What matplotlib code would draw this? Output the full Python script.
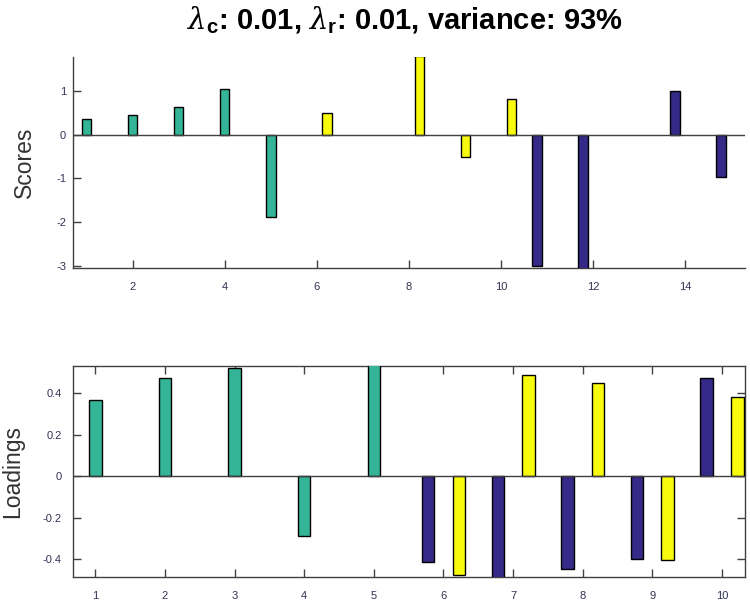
import matplotlib
matplotlib.use("Agg")
import matplotlib.pyplot as plt
import numpy as np

plt.rcParams["font.family"] = ["Liberation Sans", "DejaVu Sans"]
plt.rcParams["axes.unicode_minus"] = False
plt.rcParams["mathtext.fontset"] = "custom"
plt.rcParams["mathtext.it"] = "DejaVu Serif:italic"
plt.rcParams["mathtext.rm"] = "Liberation Sans:bold"
plt.rcParams["mathtext.bf"] = "Liberation Sans:bold"

# grouped bar data: one series per colour (navy, teal, yellow)
score_rows = np.arange(1, 16)
scores_navy = [0, 0, 0, 0, 0, 0, 0, 0, 0, 0, -3.0, -3.1, 0, 1.0, -0.97]
scores_teal = [0.37, 0.45, 0.63, 1.05, -1.89, 0, 0, 0, 0, 0, 0, 0, 0, 0, 0]
scores_yellow = [0, 0, 0, 0, 0, 0.50, 0, 1.80, -0.51, 0.82, 0, 0, 0, 0, 0]

load_rows = np.arange(1, 11)
load_navy = [0, 0, 0, 0, 0, -0.414, -0.49, -0.446, -0.397, 0.47]
load_teal = [0.365, 0.47, 0.52, -0.29, 0.54, 0, 0, 0, 0, 0]
load_yellow = [0, 0, 0, 0, 0, -0.473, 0.489, 0.45, -0.405, 0.38]

score_xticks = [2, 4, 6, 8, 10, 12, 14]
score_yticks = [-3, -2, -1, 0, 1]
load_xticks = list(range(1, 11))
load_yticks = [-0.4, -0.2, 0, 0.2, 0.4]

colors = ["#352a87", "#35b597", "#f9fb0e"]
offsets = [-0.22, 0.0, 0.22]
axis_col = "#404040"

fig = plt.figure(figsize=(7.5, 6.04), dpi=100)
ax1 = fig.add_axes([73 / 750, 1 - 268 / 604, 672 / 750, 211 / 604])
ax2 = fig.add_axes([73 / 750, 1 - 577 / 604, 672 / 750, 211 / 604])


def draw_bars(ax, rows, series, width):
    for vals, col, off in zip(series, colors, offsets):
        vals = np.asarray(vals)
        keep = vals != 0  # zero-height bars are hidden behind the baseline
        ax.bar(rows[keep] + off, vals[keep], width=width, color=col,
               edgecolor="black", linewidth=1.0, zorder=3)
    ax.axhline(0, color=axis_col, lw=1.0, zorder=4)


draw_bars(ax1, score_rows, [scores_navy, scores_teal, scores_yellow], 0.2)
ax1.set_xlim(0.7, 15.3)
ax1.set_ylim(-3.05, 1.78)
ax1.set_xticks(score_xticks)
ax1.set_yticks(score_yticks)
ax1.spines["top"].set_visible(False)
ax1.spines["right"].set_visible(False)
ax1.set_ylabel("Scores", fontsize=16.5, color="#333333")
ax1.yaxis.set_label_coords(-37 / 672, 0.5)

draw_bars(ax2, load_rows, [load_navy, load_teal, load_yellow], 0.18)
ax2.set_xlim(0.68, 10.33)
ax2.set_ylim(-0.485, 0.53)
ax2.set_xticks(load_xticks)
ax2.set_yticks(load_yticks)
ax2.set_yticklabels(["-0.4", "-0.2", "0", "0.2", "0.4"])
ax2.tick_params(top=True, right=True)
ax2.set_ylabel("Loadings", fontsize=16.5, color="#333333")
ax2.yaxis.set_label_coords(-49 / 672, 0.5)

for ax in (ax1, ax2):
    for sp in ax.spines.values():
        sp.set_color(axis_col)
        sp.set_linewidth(1.0)
    ax.tick_params(direction="in", length=6, width=1, colors=axis_col,
                   labelsize=8, labelcolor="#333355")
    ax.tick_params(axis="x", pad=10)
ax1.tick_params(axis="y", pad=5)
ax2.tick_params(axis="y", pad=8)

fig.text(0.54, 0.966,
         r"$\lambda_{\mathbf{c}}$: 0.01, $\lambda_{\mathbf{r}}$: 0.01, variance: 93%",
         ha="center", va="center", fontsize=21, fontweight="bold")

fig.savefig("out.png", dpi=100)
